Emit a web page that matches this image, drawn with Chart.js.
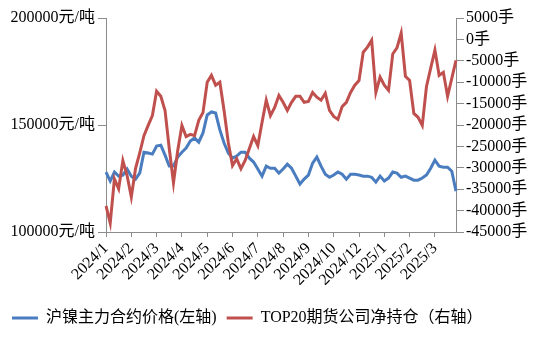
<!DOCTYPE html>
<html>
<head>
<meta charset="utf-8">
<script src="https://cdn.jsdelivr.net/npm/chart.js@4"></script>
<style>
  html, body { margin: 0; padding: 0; background: #fff; }
  #wrap { width: 537px; height: 339px; }
</style>
</head>
<body>
<div id="wrap"><canvas id="chart" width="537" height="339"></canvas></div>
<script>
// 数据：沪镍主力合约价格（元/吨，左轴）与 TOP20 期货公司净持仓（手，右轴）
const tickLabels = ['2024/1','2024/2','2024/3','2024/4','2024/5','2024/6','2024/7',
  '2024/8','2024/9','2024/10','2024/12','2025/1','2025/2','2025/3'];
const tickEvery = 6;

const nickelPrice = [
  128000,123800,128000,126100,126600,129400,126100,124700,127500,137300,
  136900,136400,140200,140600,135900,130800,130800,135000,137300,139200,
  142500,143900,142000,146300,154700,156100,155600,147700,141600,136900,
  134500,135500,137300,137300,134500,132700,129400,126100,130800,129800,
  129800,127500,129400,131700,129800,126100,122400,124700,126600,132200,
  135000,130800,127000,125600,126600,128000,127000,124700,127000,127000,
  126600,126100,126100,125600,123300,126100,123800,125200,128000,127500,
  125600,126100,125200,124200,124200,125200,126600,129800,133600,130800,
  130300,130300,128400,119100
];

const netPosition = [
  -38900,-42900,-32600,-34900,-28300,-31800,-36800,-30200,-26500,-22500,
  -20100,-17800,-12100,-13300,-16600,-25500,-33500,-26000,-20100,-22700,
  -22200,-22500,-18900,-17100,-10000,-8400,-10700,-10000,-16600,-24100,
  -29500,-27900,-30200,-28300,-25500,-22700,-24800,-19400,-14200,-17800,
  -15900,-13100,-14700,-16600,-14700,-13300,-13300,-14700,-14500,-12400,
  -13500,-14200,-12600,-16600,-18000,-18700,-15700,-14700,-12400,-10700,
  -9600,-3000,-1800,-200,-12400,-8800,-10700,-11900,-3400,-2000,
  1500,-8600,-9600,-17300,-18200,-20100,-11000,-6700,-2500,-8400,
  -7700,-13300,-9100,-4900
];

const labels = nickelPrice.map((_, i) => i);

const font = { family: "'Liberation Serif', 'Noto Sans CJK SC', serif", size: 16 };
const axisGray = '#8c8c8c';

new Chart(document.getElementById('chart'), {
  type: 'line',
  data: {
    labels: labels,
    datasets: [
      { label: '沪镍主力合约价格(左轴)', data: nickelPrice, yAxisID: 'yL',
        borderColor: '#4A7DBF', backgroundColor: '#4A7DBF', borderWidth: 3,
        pointRadius: 0, tension: 0, order: 1 },
      { label: 'TOP20期货公司净持仓（右轴）', data: netPosition, yAxisID: 'yR',
        borderColor: '#C0504D', backgroundColor: '#C0504D', borderWidth: 3,
        pointRadius: 0, tension: 0, order: 0 }
    ]
  },
  options: {
    responsive: false,
    animation: false,
    layout: { padding: { top: 18, left: 2, right: 0, bottom: 3 } },
    plugins: {
      tooltip: { enabled: false },
      legend: {
        position: 'bottom',
        align: 'start',
        labels: {
          font: font, color: '#000', padding: 10,
          usePointStyle: true, pointStyle: 'line', pointStyleWidth: 26,
          sort: (a, b) => a.datasetIndex - b.datasetIndex
        }
      }
    },
    scales: {
      x: {
        type: 'category',
        grid: { drawOnChartArea: false, drawTicks: true, tickLength: 5, color: axisGray },
        border: { display: true, color: axisGray, width: 1 },
        ticks: {
          autoSkip: false, maxRotation: 45, minRotation: 45, padding: 2,
          font: font, color: '#000',
          callback: (v, i) => (i % tickEvery === 0 && tickLabels[i / tickEvery]) ? tickLabels[i / tickEvery] : null
        },
        afterFit: s => { s.height = 68; }
      },
      yL: {
        position: 'left', min: 100000, max: 200000,
        grid: { drawOnChartArea: false, tickLength: 8, color: axisGray },
        border: { display: true, color: axisGray, width: 1 },
        ticks: { stepSize: 50000, autoSkip: false, padding: 3, font: font, color: '#000',
          callback: v => v + '元/吨' },
        afterFit: s => { s.width = 104; }
      },
      yR: {
        position: 'right', min: -45000, max: 5000,
        grid: { drawOnChartArea: false, tickLength: 8, color: axisGray },
        border: { display: true, color: axisGray, width: 1 },
        ticks: { stepSize: 5000, autoSkip: false, padding: 2, font: font, color: '#000',
          callback: v => v + '手' },
        afterFit: s => { s.width = 81; }
      }
    }
  }
});
</script>
</body>
</html>
